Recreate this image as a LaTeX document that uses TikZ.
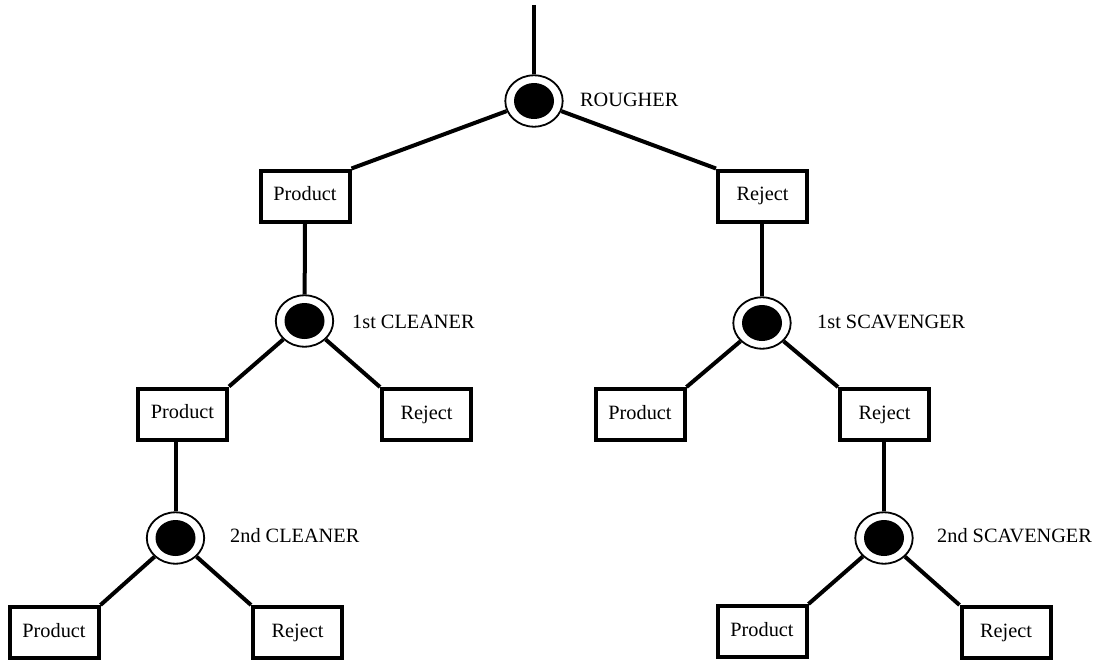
\documentclass[tikz,border=0pt]{standalone}
\usepackage{fontspec}
\setmainfont{Liberation Serif}
\usetikzlibrary{shapes.geometric}
\tikzset{
  box/.style={draw, line width=4pt, rectangle, minimum width=89pt, minimum height=51pt, inner sep=0pt, text height=13.5pt, text depth=4.5pt, font=\fontsize{20.3}{23}\selectfont},
  cell/.style={draw, line width=1.2pt, ellipse, minimum width=58pt, minimum height=52pt, inner sep=0pt, fill=white},
  lab/.style={anchor=west, inner sep=0pt, font=\fontsize{20.3}{23}\selectfont},
  link/.style={line width=4pt}
}
\newcommand{\cellcore}[1]{\fill (#1.center) ellipse [x radius=20pt, y radius=18pt];}
\begin{document}
\begin{tikzpicture}[x=1pt, y=-1pt]
\useasboundingbox (0,0) rectangle (1100,661);
% cells
\node[cell] (rough) at (534,101) {};
\node[cell] (c1) at (304.5,321) {};
\node[cell] (s1) at (762,323) {};
\node[cell] (c2) at (175.5,538) {};
\node[cell] (s2) at (884,538) {};
% labels
\node[lab] (lr) at (580,100) {ROUGHER};
\node[lab] (lc1) at (352,322) {1st CLEANER};
\node[lab] (ls1) at (817,322) {1st SCAVENGER};
\node[lab] (lc2) at (230,536) {2nd CLEANER};
\node[lab] (ls2) at (937,536) {2nd SCAVENGER};
% boxes
\node[box] (p1) at (305,196) {Product};
\node[box] (r1) at (762.5,196) {Reject};
\node[box] (p2) at (182.5,414) {Product};
\node[box] (r2) at (426.5,414.5) {Reject};
\node[box] (p2r) at (640,414.5) {Product};
\node[box] (r2r) at (884.5,414.5) {Reject};
\node[box] (p3) at (54,632.5) {Product};
\node[box] (r3) at (297.5,632.5) {Reject};
\node[box] (p3r) at (762,631.5) {Product};
\node[box] (r3r) at (1006,632.5) {Reject};
% connectors
\coordinate (top) at (534,5);
\draw[link] (top) -- (rough);
\draw[link] (rough) -- (p1.north east);
\draw[link] (rough) -- (r1.north west);
\draw[link] (p1.south) -- (c1);
\draw[link] (r1.south -| s1) -- (s1);
\draw[link] (c1) -- (p2.north east);
\draw[link] (c1) -- (r2.north west);
\draw[link] (s1) -- (p2r.north east);
\draw[link] (s1) -- (r2r.north west);
\draw[link] (c2 |- p2.south) -- (c2);
\draw[link] (s2 |- r2r.south) -- (s2);
\draw[link] (c2) -- (p3.north east);
\draw[link] (c2) -- (r3.north west);
\draw[link] (s2) -- (p3r.north east);
\draw[link] (s2) -- (r3r.north west);
% redraw cells on top of the connector ends
\foreach \n in {rough,c1,s1,c2,s2} {\draw[line width=1.2pt, fill=white] (\n.center) ellipse [x radius=28.4pt, y radius=25.4pt]; \cellcore{\n}}
\end{tikzpicture}
\end{document}
